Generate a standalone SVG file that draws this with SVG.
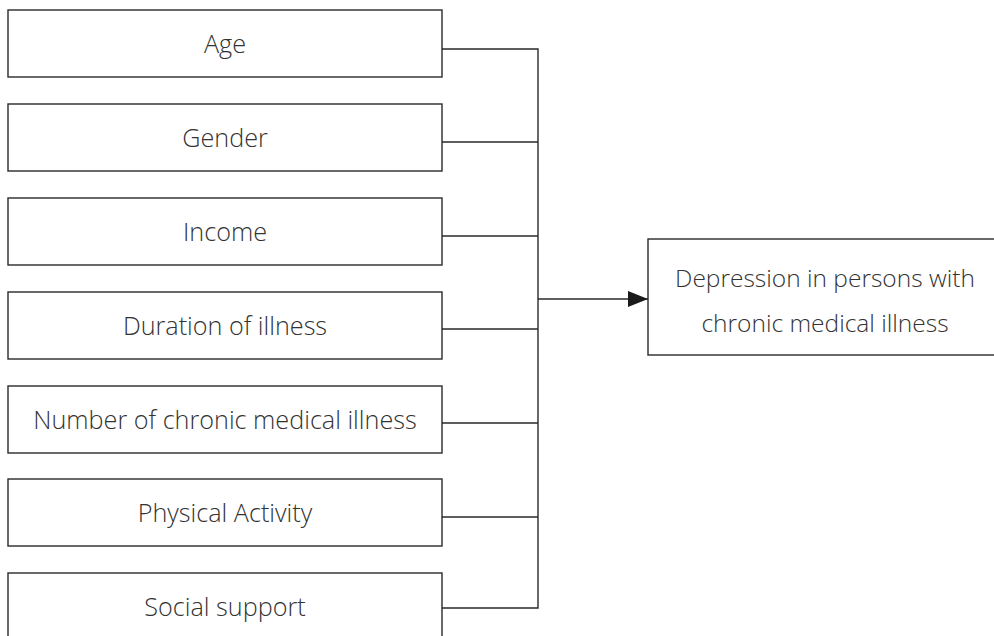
<svg xmlns="http://www.w3.org/2000/svg" width="994" height="636" viewBox="0 0 994 636">
<style>
.box{fill:#fff;stroke:#2a2a2a;stroke-width:1.4}
.lbl{font-family:"Open Sans","Noto Sans",sans-serif;font-weight:300;font-size:25.2px;fill:#333;text-anchor:middle}
.big{font-size:24.5px}
.con{fill:none;stroke:#2a2a2a;stroke-width:1.4}
</style>
<defs>
<marker id="arr" viewBox="0 0 20 16" refX="20" refY="8" markerWidth="20" markerHeight="16" markerUnits="userSpaceOnUse" orient="auto">
<path d="M0,0 L20,8 L0,16 Z" fill="#1a1a1a"/>
</marker>
</defs>
<rect width="994" height="636" fill="#fff"/>
<g id="age"><rect class="box" x="8" y="10" width="434" height="67"/><text class="lbl" x="225" y="53">Age</text></g>
<g id="gender"><rect class="box" x="8" y="104" width="434" height="67"/><text class="lbl" x="225" y="147">Gender</text></g>
<g id="income"><rect class="box" x="8" y="198" width="434" height="67"/><text class="lbl" x="225" y="241">Income</text></g>
<g id="duration"><rect class="box" x="8" y="292" width="434" height="67"/><text class="lbl" x="225" y="335">Duration of illness</text></g>
<g id="number"><rect class="box" x="8" y="386" width="434" height="67"/><text class="lbl" x="225" y="429">Number of chronic medical illness</text></g>
<g id="physical"><rect class="box" x="8" y="479" width="434" height="67"/><text class="lbl" x="225" y="522">Physical Activity</text></g>
<g id="social"><rect class="box" x="8" y="573" width="434" height="70"/><text class="lbl" x="225" y="616">Social support</text></g>
<g id="depression"><rect class="box" x="648" y="239" width="360" height="116"/><text class="lbl big" x="825" y="287">Depression in persons with</text><text class="lbl big" x="825" y="332">chronic medical illness</text></g>
<g id="connectors">
<path class="con" d="M442,49 H538 V608 H442 M442,142 H538 M442,236 H538 M442,329 H538 M442,423 H538 M442,517 H538"/>
<path class="con" d="M538,299 H648" marker-end="url(#arr)"/>
</g>
</svg>
